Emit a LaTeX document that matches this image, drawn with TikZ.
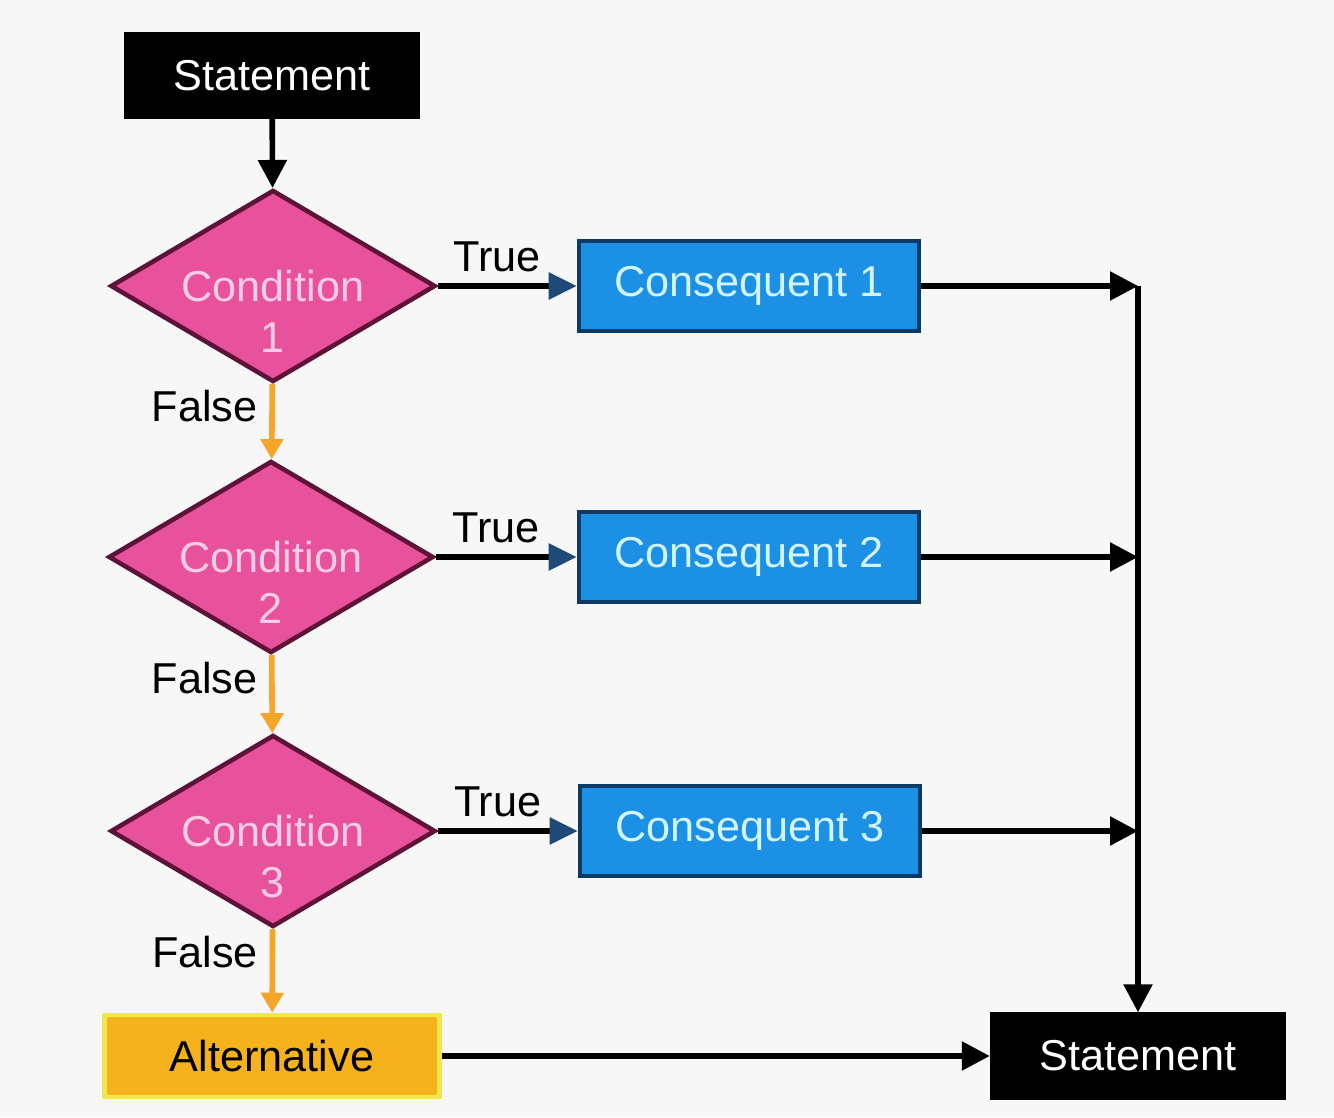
\documentclass[tikz,border=0pt]{standalone}
\usepackage{fontspec}
\setmainfont{Liberation Sans}
\usetikzlibrary{shapes.geometric,arrows.meta,positioning,calc}
\definecolor{bgray}{HTML}{F7F7F7}
\definecolor{condpink}{HTML}{E8529C}
\definecolor{condline}{HTML}{5E1238}
\definecolor{condtext}{HTML}{F9CDE6}
\definecolor{conblue}{HTML}{1C90E4}
\definecolor{conline}{HTML}{0C3A66}
\definecolor{context}{HTML}{D2F4FF}
\definecolor{altfill}{HTML}{F5B21C}
\definecolor{altline}{HTML}{F1E64A}
\definecolor{falsearr}{HTML}{F5A52A}
\definecolor{tipblue}{HTML}{1F4A78}

\begin{document}
\begin{tikzpicture}[
  font=\fontsize{12.3}{14.5}\selectfont,
  stmt/.style={draw=black,fill=black,text=white,minimum width=2.95cm,minimum height=0.86cm,inner sep=0pt},
  cond/.style={diamond,draw=condline,fill=condpink,line width=1.3pt,minimum width=3.25cm,minimum height=1.92cm,inner sep=0pt},
  condlbl/.style={text=condtext,align=center,inner sep=0pt},
  conseq/.style={draw=conline,fill=conblue,text=context,line width=1.3pt,minimum width=3.4cm,minimum height=0.9cm,inner sep=0pt},
  altbox/.style={draw=altline,fill=altfill,line width=1.3pt,minimum width=3.35cm,minimum height=0.82cm,inner sep=0pt},
  flow/.style={line width=1.6pt,-{Triangle[length=0.28cm,width=0.28cm]}},
  falseflow/.style={falsearr,line width=1.6pt,-{Triangle[length=0.2cm,width=0.22cm]}},
  trueflow/.style={line width=1.6pt,-{Triangle[length=0.28cm,width=0.26cm,color=tipblue,fill=tipblue]}},
]
\fill[bgray] (0,0) rectangle (13.34,11.17);
\useasboundingbox (0,0) rectangle (13.34,11.17);

% left column
\node[stmt] (st1) at (2.72,10.415) {Statement};
\node[cond] (c1) at (2.73,8.31) {};
\node[condlbl] at ([yshift=-0.255cm]c1.center) {Condition\\1};
\node[cond] (c2) at (2.71,5.60) {};
\node[condlbl] at ([yshift=-0.255cm]c2.center) {Condition\\2};
\node[cond] (c3) at (2.73,2.86) {};
\node[condlbl] at ([yshift=-0.255cm]c3.center) {Condition\\3};
\node[altbox] (alt) at (2.72,0.61) {Alternative};

% consequents and end
\node[conseq] (q1) at (7.49,8.31) {Consequent 1};
\node[conseq] (q2) at (7.49,5.60) {Consequent 2};
\node[conseq] (q3) at (7.50,2.86) {Consequent 3};
\node[stmt] (st2) at (11.38,0.61) {Statement};

\coordinate (m1) at (q1.east -| st2.north);
\coordinate (m2) at (q2.east -| st2.north);
\coordinate (m3) at (q3.east -| st2.north);

\draw[flow] (st1) -- (c1);
\draw[falseflow] (c1) -- node[pos=0.3,left,black]{False} (c2);
\draw[falseflow] (c2) -- node[pos=0.3,left,black]{False} (c3);
\draw[falseflow] (c3) -- node[pos=0.27,left,black]{False} (alt);
\draw[trueflow] (c1.east) -- node[above=0cm,xshift=-0.1cm]{True} (q1.west);
\draw[trueflow] (c2.east) -- node[above=0cm,xshift=-0.1cm]{True} (q2.west);
\draw[trueflow] (c3.east) -- node[above=0cm,xshift=-0.1cm]{True} (q3.west);
\draw[flow] (q1.east) -- (m1);
\draw[flow] (q2.east) -- (m2);
\draw[flow] (q3.east) -- (m3);
\draw[flow] (m1) -- (st2.north);
\draw[flow] (alt.east) -- (st2.west);
\end{tikzpicture}
\end{document}
